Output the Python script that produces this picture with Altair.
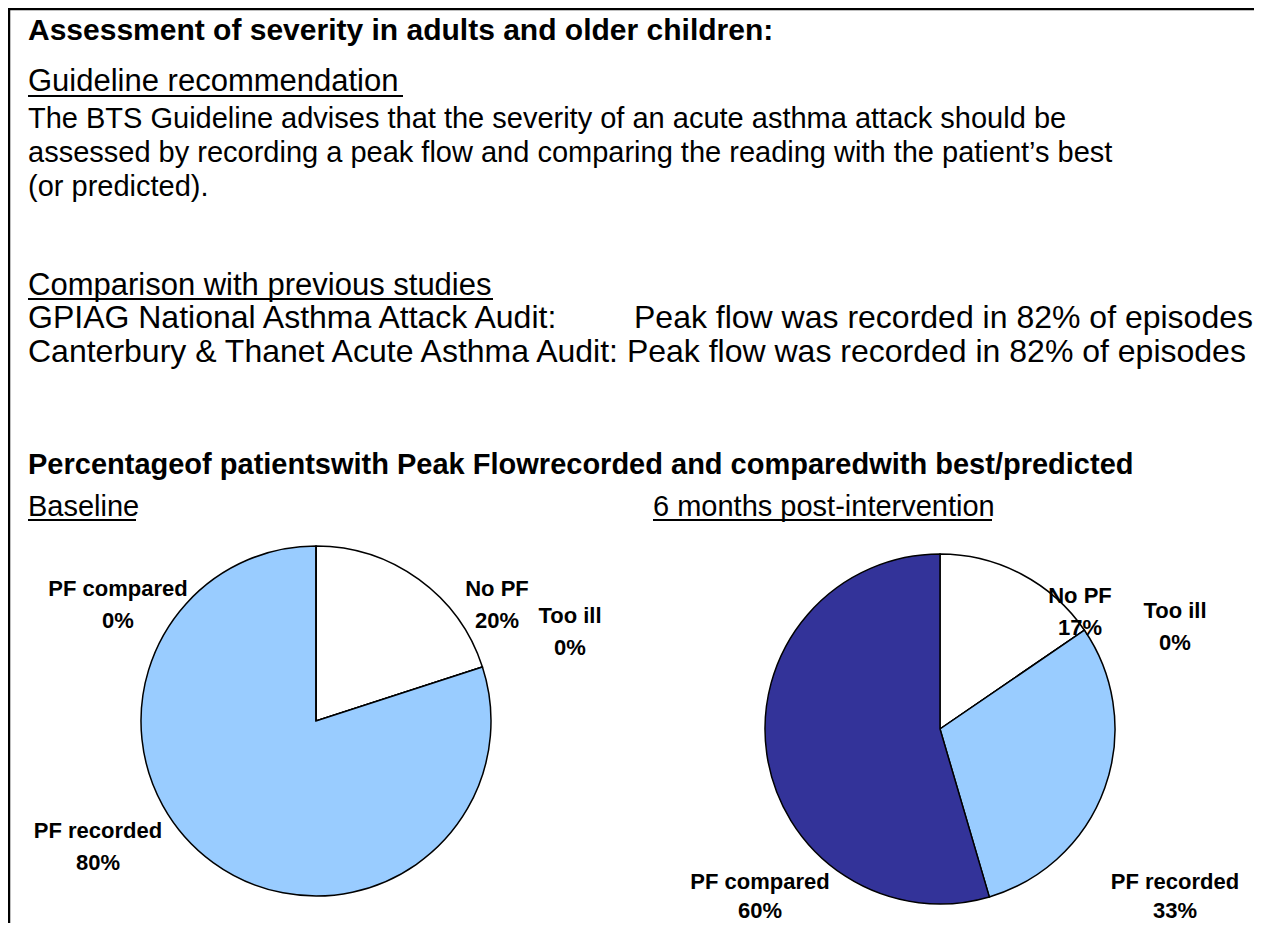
import altair as alt
import pandas as pd

# ---- data ----
categories = ["No PF", "Too ill", "PF recorded", "PF compared"]
baseline_values = [20, 0, 80, 0]
post_values = [17, 0, 33, 60]
slice_colors = ["#FFFFFF", "#FFFFFF", "#99CCFF", "#333399"]

heading = "Assessment of severity in adults and older children:"
sub1 = "Guideline recommendation"
para = [
    "The BTS Guideline advises that the severity of an acute asthma attack should be",
    "assessed by recording a peak flow and comparing the reading with the patient\u2019s best",
    "(or predicted).",
]
sub2 = "Comparison with previous studies"
audit1_left = "GPIAG National Asthma Attack Audit:"
audit1_right = "Peak flow was recorded in 82% of episodes"
audit2 = "Canterbury & Thanet Acute Asthma Audit: Peak flow was recorded in 82% of episodes"
chart_title = "Percentageof patientswith Peak Flowrecorded  and comparedwith best/predicted"
panel_titles = ["Baseline", "6 months post-intervention"]

W, H = 1246, 915
OFF = 8  # page margin
FONT = "Liberation Sans"
R = 175


def pie(values, cx, cy):
    df = pd.DataFrame({"cat": categories, "value": values, "order": range(len(categories))})
    return alt.Chart(df).mark_arc(outerRadius=R, stroke="black", strokeWidth=1.5).encode(
        theta=alt.Theta("value:Q", stack=True),
        color=alt.Color("cat:N", scale=alt.Scale(domain=categories, range=slice_colors), legend=None),
        order=alt.Order("order:Q"),
        x=alt.value(cx - OFF),
        y=alt.value(cy - OFF),
    )


pie1 = pie(baseline_values, 316, 721)
pie2 = pie(post_values, 940, 729)

# text lines (page coords of baseline)
para_df = pd.DataFrame({
    "text": [para[0], para[1], para[2], panel_titles[0], panel_titles[1]],
    "x": [28, 28, 28, 28, 653],
    "y": [128, 162, 196, 516, 516],
})
sub_df = pd.DataFrame({"text": [sub1, sub2], "x": [28, 28], "y": [91, 295]})
audit_df = pd.DataFrame({"text": [audit1_left, audit2], "x": [28, 28], "y": [328, 362]})
audit_right_df = pd.DataFrame({"text": [audit1_right], "x": [1253], "y": [328]})
head_df = pd.DataFrame({"text": [heading], "x": [28], "y": [40]})
title_df = pd.DataFrame({"text": [chart_title], "x": [28], "y": [474]})

for d in (para_df, sub_df, audit_df, audit_right_df, head_df, title_df):
    d["x"] -= OFF
    d["y"] -= OFF


def pct(v):
    return f"{v}%"


lab_rows = [
    # name, value, center x, first baseline, second baseline
    ("PF compared", baseline_values[3], 118, 596, 628),
    ("No PF", baseline_values[0], 497, 596, 628),
    ("Too ill", baseline_values[1], 570, 623, 655),
    ("PF recorded", baseline_values[2], 98, 838, 870),
    ("No PF", post_values[0], 1080, 603, 635),
    ("Too ill", post_values[1], 1175, 618, 650),
    ("PF compared", post_values[3], 760, 889, 918),
    ("PF recorded", post_values[2], 1175, 889, 918),
]
lab_text, lab_x, lab_y = [], [], []
for name, v, x, y1, y2 in lab_rows:
    lab_text += [name, pct(v)]
    lab_x += [x - OFF, x - OFF]
    lab_y += [y1 - OFF, y2 - OFF]
labels = pd.DataFrame({"text": lab_text, "x": lab_x, "y": lab_y})

underl = pd.DataFrame({
    "x": [28, 28, 28, 653],
    "x2": [403, 493, 136, 992],
    "y": [96, 299, 520, 520],
})
underl[["x", "x2", "y"]] -= OFF

frame = pd.DataFrame({"x": [0, 1], "x2": [W, 1], "y": [1, 0], "y2": [1, H]})


def txt_layer(df, size, weight="normal", align="left"):
    return alt.Chart(df).mark_text(
        font=FONT, fontSize=size, fontWeight=weight, align=align, baseline="alphabetic", color="black"
    ).encode(
        x=alt.X("x:Q", scale=None, axis=None),
        y=alt.Y("y:Q", scale=None, axis=None),
        text="text:N",
    )


layers = [
    txt_layer(para_df, 29),
    txt_layer(sub_df, 31),
    txt_layer(audit_df, 32),
    txt_layer(audit_right_df, 32, align="right"),
    txt_layer(head_df, 30, weight="bold"),
    txt_layer(title_df, 29, weight="bold"),
    txt_layer(labels, 22, weight="bold", align="center"),
]

u_layer = alt.Chart(underl).mark_rule(color="black", strokeWidth=2).encode(
    x=alt.X("x:Q", scale=None, axis=None), x2="x2:Q", y=alt.Y("y:Q", scale=None, axis=None)
)
f_layer = alt.Chart(frame).mark_rule(color="black", strokeWidth=2.5).encode(
    x=alt.X("x:Q", scale=None, axis=None), x2="x2:Q",
    y=alt.Y("y:Q", scale=None, axis=None), y2="y2:Q",
)

chart = alt.layer(pie1, pie2, f_layer, u_layer, *layers).resolve_scale(
    theta="independent"
).properties(
    width=W, height=H, autosize=alt.AutoSizeParams(type="none"), padding=0, background="white"
).configure_view(stroke=None)

chart.save("out.html", embed_options={"renderer": "svg", "actions": False})
